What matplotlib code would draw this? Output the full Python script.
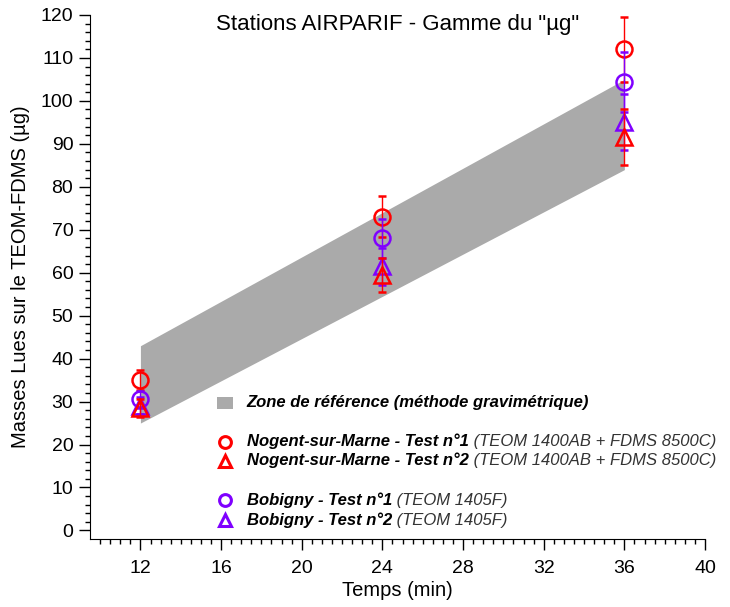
import matplotlib.pyplot as plt
from matplotlib.patches import Rectangle
import numpy as np

plt.rcParams['font.family'] = ['Liberation Sans', 'DejaVu Sans']

# temps des mesures (min)
t = np.array([12, 24, 36])

# zone de reference (methode gravimetrique) : bornes basse / haute
ref_low = [25, 55, 84]
ref_high = [43, 74, 105]

# Nogent-sur-Marne
nog1 = [35, 73, 112]
nog1_err = [2.4, 4.8, 7.5]
nog2 = [28.5, 59.5, 91.5]
nog2_err = [2.2, 4.0, 6.5]

# Bobigny
bob1 = [30.5, 68, 104.5]
bob1_err = [2.0, 4.6, 7.0]
bob2 = [29, 61.5, 95]
bob2_err = [2.0, 4.3, 6.5]

red = '#ff0000'
purple = '#7f00ff'
grey = '#aaaaaa'

fig = plt.figure(figsize=(7.3, 6.07), dpi=100)
ax = fig.add_axes([0.1233, 0.112, 0.8425, 0.8633])

ax.fill_between(t[[0, 2]], [ref_low[0], ref_low[2]], [ref_high[0], ref_high[2]],
                color=grey, lw=0, zorder=1)

def serie(y, err, marker, col, z, ms):
	ax.errorbar(t, y, yerr=err, fmt=marker, ms=ms, mfc='none', mec=col, mew=1.8,
	            ecolor=col, elinewidth=1, capsize=2.8, capthick=2, zorder=z)

serie(nog1, nog1_err, 'o', red, 3, 11.5)
serie(bob1, bob1_err, 'o', purple, 4, 11.5)
serie(bob2, bob2_err, '^', purple, 4, 12)
serie(nog2, nog2_err, '^', red, 5, 12)

ax.set_xlim(9.5, 40)
ax.set_ylim(-2, 120)
ax.set_xticks(np.arange(12, 41, 4))
ax.set_xticks(np.arange(10, 40.1, 0.5), minor=True)
ax.set_yticks(np.arange(0, 121, 10))
ax.set_yticks(np.arange(0, 121, 2), minor=True)
ax.tick_params(which='major', length=8, width=1, labelsize=14, direction='out')
ax.tick_params(which='minor', length=3.8, width=1, direction='out')
ax.tick_params(axis='x', pad=7)
ax.tick_params(axis='y', pad=4)
for s in ['top', 'right']:
	ax.spines[s].set_visible(False)

ax.set_ylabel('Masses Lues sur le TEOM-FDMS (µg)', fontsize=14.5, labelpad=8)
ax.set_xlabel('Temps (min)', fontsize=14.5, labelpad=3)
ax.text(0.5, 0.982, 'Stations AIRPARIF - Gamme du "µg"', transform=ax.transAxes,
        ha='center', va='center', fontsize=16)

# legende faite a la main
def fx(px):
	return (px - 90) / 615.0
def fy(py):
	return (539.6 - py) / 524.6

ax.add_patch(Rectangle((fx(217), fy(409)), 16 / 615.0, 12 / 524.6, color=grey, lw=0,
                       transform=ax.transAxes, clip_on=False))
ax.text(fx(246), fy(403), 'Zone de référence (méthode gravimétrique)', transform=ax.transAxes,
        fontsize=12, fontweight='bold', style='italic', va='center')

entries = [
	(442, 'o', red, 'Nogent-sur-Marne - Test n°1', '(TEOM 1400AB + FDMS 8500C)'),
	(461, '^', red, 'Nogent-sur-Marne - Test n°2', '(TEOM 1400AB + FDMS 8500C)'),
	(501, 'o', purple, 'Bobigny - Test n°1', '(TEOM 1405F)'),
	(521, '^', purple, 'Bobigny - Test n°2', '(TEOM 1405F)'),
]
for py, m, col, lab, extra in entries:
	ax.plot(fx(225), fy(py), m, ms=8.5, mfc='none', mec=col, mew=2.2, transform=ax.transAxes, clip_on=False)
	tx = ax.text(fx(247), fy(py), lab, transform=ax.transAxes, fontsize=12,
	             fontweight='bold', style='italic', va='center')
	ax.annotate(' ' + extra, xy=(1, 0.5), xycoords=tx, va='center', fontsize=12,
	            style='italic', color='#333333')

plt.savefig('out.png', dpi=100)
